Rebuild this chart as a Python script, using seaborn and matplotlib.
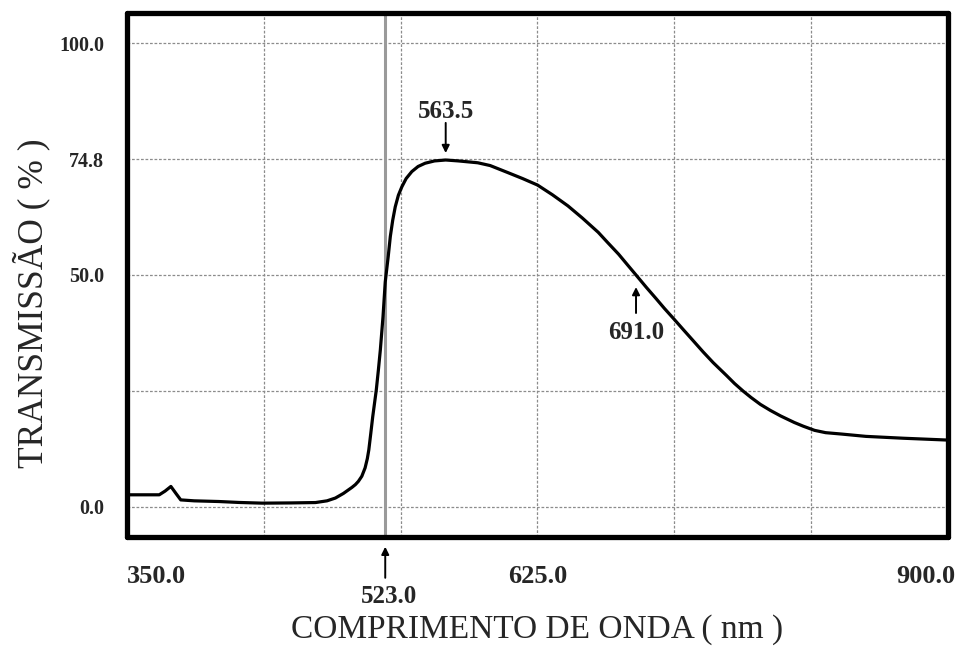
import matplotlib
matplotlib.use("Agg")
import matplotlib.pyplot as plt
import matplotlib.transforms as mtransforms
import seaborn as sns
import pandas as pd

# ---- data ----
wavelength = [350, 360, 371.6, 375.5, 379.4, 383, 386, 395, 411.7, 425, 440.6, 460,
              476.3, 484, 489.6, 495, 500.7, 503, 505, 507.3, 509.5, 511, 512, 513.3,
              514.6, 515.8, 517, 518.4, 519.7, 521.5, 523, 525, 526.4, 528, 529.7,
              531.8, 534.1, 537, 540.8, 545, 549.7, 556, 563.5, 572, 585, 593.3, 605,
              615, 625, 635, 645.4, 655, 665.7, 672, 679.3, 685, 691, 698, 704.2, 710,
              716.7, 723, 729.1, 736, 742.7, 751.7, 757, 763, 768, 774.3, 781, 787.9,
              797, 803, 810.6, 818, 828.7, 845, 870, 900]
transmission = [2.6, 2.6, 2.6, 3.4, 4.4, 2.8, 1.5, 1.3, 1.15, 0.95, 0.8, 0.85,
                0.93, 1.3, 1.9, 2.9, 4.2, 4.8, 5.5, 6.6, 8.4, 10.4, 12.3, 15.8,
                19.4, 22.3, 25.2, 29.5, 33.8, 41.0, 48.5, 54.0, 58.3, 61.8, 64.7,
                67.2, 69.0, 70.8, 72.3, 73.4, 74.1, 74.6, 74.8, 74.6, 74.2, 73.6, 72.1,
                70.8, 69.4, 67.3, 64.9, 62.3, 59.2, 57.0, 54.5, 52.3, 50.0, 47.3, 45.0, 42.8,
                40.4, 38.1, 35.9, 33.4, 31.1, 28.3, 26.6, 24.9, 23.6, 22.1, 20.8, 19.6,
                18.2, 17.4, 16.5, 16.0, 15.7, 15.2, 14.8, 14.4]

x_ticks = [350.0, 625.0, 900.0]
x_tick_labels = ["350.0", "625.0", "900.0"]
y_ticks = [0.0, 50.0, 74.8, 100.0]
y_tick_labels = ["0.0", "50.0", "74.8", "100.0"]
x_grid = [350 + 550 / 6 * k for k in range(1, 6)]
y_grid = [0, 25, 50, 75, 100]

marker_wl = 523.0          # gray vertical line / 50% cut-on
peak_wl, peak_t = 563.5, 74.8
half_wl, half_t = 691.0, 50.0

x_label = "COMPRIMENTO DE ONDA ( nm )"
y_label = "TRANSMISSÃO ( % )"

df = pd.DataFrame({"wl": wavelength, "T": transmission})

# ---- style ----
sns.set_style("white")
plt.rcParams["font.family"] = ["Liberation Serif", "DejaVu Serif"]

fig = plt.figure(figsize=(9.62, 6.59), dpi=100)
ax = fig.add_axes([127 / 962, 1 - 537 / 659, (948 - 127) / 962, (537 - 13) / 659])

ax.set_xlim(350, 900)
ax.set_ylim(-6.5, 106.5)

grid_kw = dict(color="#8c8c8c", lw=0.9, linestyle=(0, (2.2, 1.4)), zorder=1)
for gx in x_grid:
    ax.axvline(gx, **grid_kw)
for gy in y_grid:
    ax.axhline(gy, **grid_kw)

ax.axvline(marker_wl, color="#9a9a9a", lw=2.2, zorder=2)

sns.lineplot(data=df, x="wl", y="T", ax=ax, color="black", lw=2.3, zorder=3)
ax.lines[-1].set_solid_joinstyle("round")

# spines
for s in ax.spines.values():
    s.set_visible(True)
    s.set_color("black")
    s.set_linewidth(3.8)
    s.set_capstyle("round")

# ticks
ax.set_xticks(x_ticks)
ax.set_xticklabels(x_tick_labels, fontsize=19, fontweight="bold")
xl = ax.get_xticklabels()
xl[0].set_ha("left")
xl[-1].set_ha("center")
ax.tick_params(axis="x", length=0, pad=20)
offset = mtransforms.ScaledTranslation(-22 / 100, 0, fig.dpi_scale_trans)
xl[-1].set_transform(xl[-1].get_transform() + offset)

ax.set_yticks(y_ticks)
ax.set_yticklabels(y_tick_labels, fontsize=14.5, fontweight="bold")
ax.tick_params(axis="y", length=0, pad=16.5)

ax.set_xlabel(x_label, fontsize=24)
ax.set_ylabel(y_label, fontsize=25.5)
ax.xaxis.set_label_coords(0.5, -0.147)
ax.yaxis.set_label_coords(-0.094, 0.447)

# annotations
arrow = dict(arrowstyle="-|>", color="black", lw=1.4, mutation_scale=11,
             shrinkA=0, shrinkB=0)
ax.annotate("", xy=(peak_wl, 76.3), xytext=(peak_wl, 82.8), arrowprops=arrow)
ax.text(peak_wl, 85.2, f"{peak_wl:.1f}", ha="center", va="center",
        fontsize=18, fontweight="bold")

ax.annotate("", xy=(half_wl, 47.4), xytext=(half_wl, 41.8), arrowprops=arrow)
ax.text(half_wl, 37.6, f"{half_wl:.1f}", ha="center", va="center",
        fontsize=18, fontweight="bold")

ax.annotate("", xy=(marker_wl, -8.6), xytext=(marker_wl, -15.3), arrowprops=arrow,
            annotation_clip=False)
ax.text(marker_wl + 2.5, -19.3, f"{marker_wl:.1f}", ha="center", va="center",
        fontsize=18, fontweight="bold", clip_on=False)

fig.savefig("out.png", dpi=100)
